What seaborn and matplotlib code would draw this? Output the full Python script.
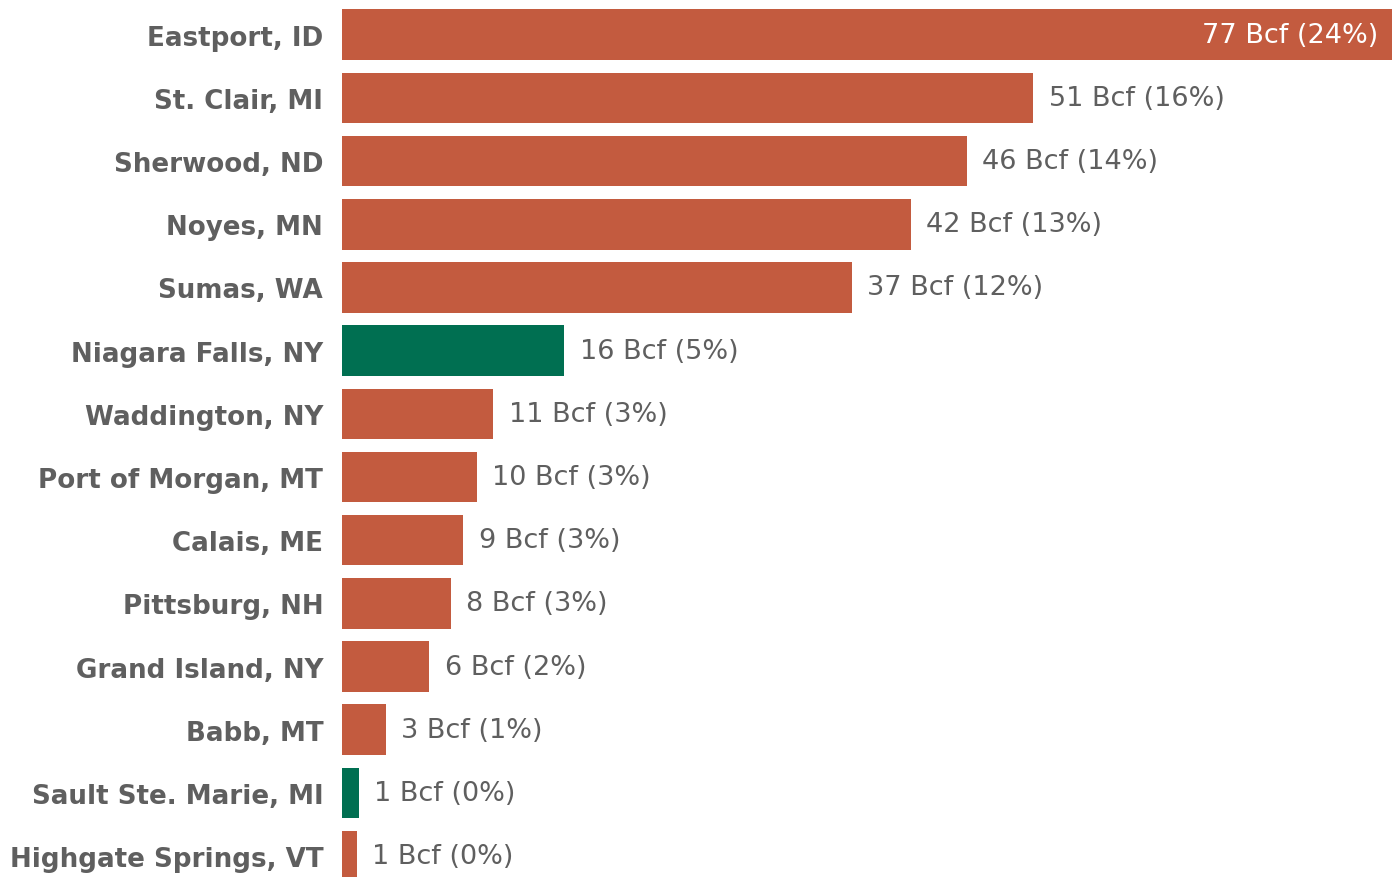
import pandas as pd
import seaborn as sns
import matplotlib.pyplot as plt

# Border crossings and volumes (Bcf)
ports = ["Eastport, ID", "St. Clair, MI", "Sherwood, ND", "Noyes, MN", "Sumas, WA",
         "Niagara Falls, NY", "Waddington, NY", "Port of Morgan, MT", "Calais, ME",
         "Pittsburg, NH", "Grand Island, NY", "Babb, MT", "Sault Ste. Marie, MI",
         "Highgate Springs, VT"]
volume_bcf = [77.0, 50.7, 45.8, 41.7, 37.4, 16.3, 11.1, 9.9, 8.9, 8.0, 6.4, 3.2, 1.25, 1.1]
share_pct = [24, 16, 14, 13, 12, 5, 3, 3, 3, 3, 2, 1, 0, 0]
highlight = ["Niagara Falls, NY", "Sault Ste. Marie, MI"]

orange = "#C35B3F"
green = "#006F51"
grey = "#5F5F5F"

df = pd.DataFrame({"port": ports, "bcf": volume_bcf, "pct": share_pct})
palette = {p: (green if p in highlight else orange) for p in ports}

sns.set_style("white")
plt.rcParams["font.family"] = ["DejaVu Sans"]

fig = plt.figure(figsize=(13.92, 8.78), dpi=100)
ax = fig.add_axes([342 / 1392, 0, 1 - 342 / 1392, 1])

sns.barplot(data=df, x="bcf", y="port", hue="port", palette=palette,
            orient="h", width=0.8, legend=False, ax=ax, saturation=1,
            linewidth=0)

# value labels
for i, row in df.iterrows():
    txt = f"{row.bcf:.0f} Bcf ({row.pct}%)"
    if i == 0:
        ax.annotate(txt, (row.bcf, i), xytext=(-10, 0), textcoords="offset points",
                    ha="right", va="center", color="white", fontsize=19.5)
    else:
        ax.annotate(txt, (row.bcf, i), xytext=(11, 0), textcoords="offset points",
                    ha="left", va="center", color=grey, fontsize=19.5)

ax.set_xlim(0, 77.0)
ax.set_ylim(13.33, -0.565)
ax.set_xlabel("")
ax.set_ylabel("")
ax.set_xticks([])
ax.tick_params(axis="y", length=0, pad=13.5)
for lbl in ax.get_yticklabels():
    lbl.set_fontweight("bold")
    lbl.set_fontsize(18.8)
    lbl.set_color(grey)
sns.despine(ax=ax, left=True, bottom=True)

fig.savefig("out.png", dpi=100)
